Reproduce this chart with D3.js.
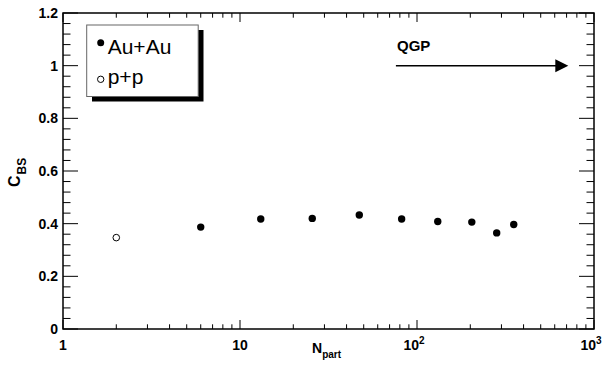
<!DOCTYPE html>
<html>
<head>
<meta charset="utf-8">
<script src="https://cdn.jsdelivr.net/npm/d3@7"></script>
<style>
  body { margin: 0; background: #fff; }
  text { font-family: "Liberation Sans", Arial, sans-serif; }
</style>
</head>
<body>
<div id="chart"></div>
<script>
// Au+Au points (N_part, C_BS)
var auNpart = [6.0, 13.1, 25.6, 47.2, 81.9, 131, 204, 282, 352];
var auCbs = [0.387, 0.418, 0.420, 0.433, 0.418, 0.408, 0.406, 0.365, 0.397];
// p+p point
var ppNpart = [2];
var ppCbs = [0.347];
// QGP arrow (N_part from/to, at C_BS = 1)
var qgpArrow = [76, 716];
var qgpLevel = 1.0;

var yTicks = [0, 0.2, 0.4, 0.6, 0.8, 1, 1.2];
var yTickLabels = ["0", "0.2", "0.4", "0.6", "0.8", "1", "1.2"];
var xTicks = [1, 10, 100, 1000];
var xTickLabels = [["1", ""], ["10", ""], ["10", "2"], ["10", "3"]];
var legendLabels = ["Au+Au", "p+p"];

var width = 603, height = 365;
var pLeft = 63, pRight = 594, pTop = 13, pBottom = 329;

var svg = d3.select("#chart").append("svg")
  .attr("width", width)
  .attr("height", height);

var x = d3.scaleLog().domain([1, 1000]).range([pLeft, pRight]);
var y = d3.scaleLinear().domain([0, 1.2]).range([pBottom, pTop]);

// minor ticks on log axis
var xMinor = [];
[1, 10, 100].forEach(function (d) {
  for (var k = 2; k <= 9; k++) xMinor.push(d * k);
});

var ticks = svg.append("g").attr("stroke", "#000").attr("stroke-width", 1);

// bottom and top axes
xMinor.forEach(function (d) {
  ticks.append("line").attr("x1", x(d)).attr("x2", x(d)).attr("y1", pBottom).attr("y2", pBottom - 4.7);
  ticks.append("line").attr("x1", x(d)).attr("x2", x(d)).attr("y1", pTop).attr("y2", pTop + 4.7);
});
xTicks.forEach(function (d) {
  ticks.append("line").attr("x1", x(d)).attr("x2", x(d)).attr("y1", pBottom).attr("y2", pBottom - 9);
  ticks.append("line").attr("x1", x(d)).attr("x2", x(d)).attr("y1", pTop).attr("y2", pTop + 9);
});

// left and right axes
var yAll = d3.range(0, 31).map(function (i) { return +(i * 0.04).toFixed(2); });
yAll.forEach(function (d, i) {
  var len = i % 5 === 0 ? 15 : 7.5;
  ticks.append("line").attr("x1", pLeft).attr("x2", pLeft + len).attr("y1", y(d)).attr("y2", y(d));
  ticks.append("line").attr("x1", pRight).attr("x2", pRight - len).attr("y1", y(d)).attr("y2", y(d));
});

// frame
svg.append("rect")
  .attr("x", pLeft).attr("y", pTop)
  .attr("width", pRight - pLeft).attr("height", pBottom - pTop)
  .attr("fill", "none").attr("stroke", "#000").attr("stroke-width", 1.5);

// y tick labels
svg.append("g").selectAll("text")
  .data(yTicks)
  .enter().append("text")
  .attr("x", 58)
  .attr("y", function (d) { return y(d) + 5; })
  .attr("text-anchor", "end")
  .attr("font-size", 14)
  .attr("font-weight", "bold")
  .text(function (d, i) { return yTickLabels[i]; });

// x tick labels
var xl = svg.append("g").selectAll("text")
  .data(xTicks)
  .enter().append("text")
  .attr("x", function (d, i) { return x(d) + (i >= 2 ? -3 : 0); })
  .attr("y", 350)
  .attr("text-anchor", "middle")
  .attr("font-size", 14)
  .attr("font-weight", "bold");
xl.append("tspan").text(function (d, i) { return xTickLabels[i][0]; });
xl.append("tspan")
  .attr("font-size", 10)
  .attr("dy", -6)
  .text(function (d, i) { return xTickLabels[i][1]; });

// axis titles
var xt = svg.append("text")
  .attr("x", 312).attr("y", 352.5)
  .attr("font-size", 14).attr("font-weight", "bold");
xt.append("tspan").text("N");
xt.append("tspan").attr("font-size", 10).attr("dy", 5.5).text("part");

var yt = svg.append("text")
  .attr("transform", "translate(20,187) rotate(-90)")
  .attr("font-size", 16).attr("font-weight", "bold");
yt.append("tspan").text("C");
yt.append("tspan").attr("font-size", 12).attr("dx", 1).attr("dy", 6).text("BS");

// data points
svg.append("g").selectAll("circle")
  .data(auNpart)
  .enter().append("circle")
  .attr("cx", function (d) { return x(d); })
  .attr("cy", function (d, i) { return y(auCbs[i]); })
  .attr("r", 3.7)
  .attr("fill", "#000");

svg.append("g").selectAll("circle")
  .data(ppNpart)
  .enter().append("circle")
  .attr("cx", function (d) { return x(d); })
  .attr("cy", function (d, i) { return y(ppCbs[i]); })
  .attr("r", 3.3)
  .attr("fill", "#fff")
  .attr("stroke", "#000")
  .attr("stroke-width", 1);

// QGP arrow
var ay = y(qgpLevel);
var ax1 = x(qgpArrow[1]);
svg.append("line")
  .attr("x1", x(qgpArrow[0])).attr("x2", ax1 - 10)
  .attr("y1", ay).attr("y2", ay)
  .attr("stroke", "#000").attr("stroke-width", 1.5);
svg.append("path")
  .attr("d", "M" + ax1 + "," + ay + "L" + (ax1 - 13) + "," + (ay - 6.5) +
    "L" + (ax1 - 13) + "," + (ay + 6.5) + "Z")
  .attr("fill", "#000");
svg.append("text")
  .attr("x", 397).attr("y", 51)
  .attr("font-size", 15).attr("font-weight", "bold")
  .text("QGP");

// legend
var lg = svg.append("g");
lg.append("rect")
  .attr("x", 92).attr("y", 30).attr("width", 111.5).attr("height", 71.5)
  .attr("fill", "#000");
lg.append("rect")
  .attr("x", 86.7).attr("y", 25).attr("width", 111.5).attr("height", 71.5)
  .attr("fill", "#fff").attr("stroke", "#666").attr("stroke-width", 1);
lg.append("circle").attr("cx", 100.7).attr("cy", 42.7).attr("r", 3.5).attr("fill", "#000");
lg.append("circle").attr("cx", 100.7).attr("cy", 79.3).attr("r", 3.2)
  .attr("fill", "#fff").attr("stroke", "#000").attr("stroke-width", 1);
lg.selectAll("text.leg")
  .data(legendLabels)
  .enter().append("text")
  .attr("class", "leg")
  .attr("x", 107.7)
  .attr("y", function (d, i) { return i === 0 ? 54 : 84; })
  .attr("font-size", 21)
  .text(function (d) { return d; });
</script>
</body>
</html>
